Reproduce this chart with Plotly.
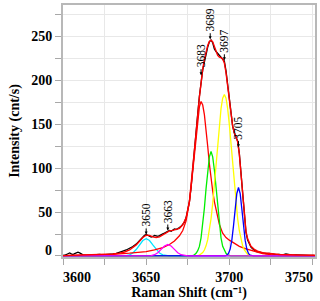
import plotly.graph_objects as go

# ---- raw spectrum (black) ----
raw_x = [3599, 3601, 3603, 3604, 3605, 3606, 3607, 3608, 3609, 3610, 3611, 3612, 3614, 3616, 3618,
         3620, 3622, 3624, 3626, 3628, 3630, 3632, 3634, 3636, 3638, 3640, 3642, 3644, 3646, 3648,
         3649, 3650, 3651, 3652, 3653, 3654, 3655, 3656, 3657, 3658, 3659, 3660, 3661, 3662, 3663,
         3664, 3665, 3666, 3667, 3668, 3669, 3670, 3671, 3672, 3673, 3674, 3675, 3676, 3677, 3678,
         3679, 3680, 3681, 3682, 3683, 3684, 3685, 3686, 3687, 3688, 3689, 3690, 3691, 3692, 3693,
         3694, 3695, 3696, 3697, 3698, 3699, 3700, 3701, 3702, 3703, 3704, 3705, 3706, 3707, 3708,
         3709, 3710, 3711, 3712, 3713, 3714, 3715, 3716, 3718, 3720, 3722, 3724, 3726, 3728, 3730,
         3732, 3734, 3736, 3738, 3740, 3742, 3745, 3748, 3751]
raw_y = [0.5, 0.8, 2.5, 3.4, 2.4, 1.6, 2.6, 3.8, 4.2, 3.5, 2.4, 1.2, 0.6, 0.9, 1.2,
         1.0, 1.8, 1.2, 1.4, 1.9, 2.4, 3.0, 3.9, 5.6, 6.8, 8.6, 10.8, 13.5, 17.8, 21.9,
         23.6, 24.4, 23.5, 22.1, 21.5, 22.2, 23.4, 23.0, 22.3, 23.1, 24.5, 25.2, 26.0, 27.3, 28.6,
         29.0, 28.2, 29.4, 30.8, 30.2, 31.0, 32.3, 33.8, 35.6, 38.5, 43.5, 51, 62, 78, 97,
         118, 140, 162, 182, 200, 212, 221, 231, 238, 244, 246, 243, 236, 233, 231,
         228, 227, 225, 222, 211, 194, 176, 160, 148, 140, 136, 131, 117, 95, 68,
         43, 27, 18, 13, 10, 8.2, 6.9, 5.2, 4.4, 3.4, 2.6, 2.9, 2.0, 1.6, 1.8,
         1.3, 2.2, 1.2, 0.9, 1.1, 0.8, 0.9, 0.6, 0.7]

# ---- cumulative fit (red envelope) ----
fit_x = [3600, 3605, 3610, 3615, 3620, 3625, 3630, 3634, 3637, 3640, 3642, 3644, 3646, 3648, 3650,
         3652, 3654, 3656, 3658, 3660, 3662, 3664, 3666, 3668, 3670, 3672, 3674, 3676, 3678, 3680,
         3682, 3683, 3684, 3685, 3686, 3687, 3688, 3689, 3690, 3691, 3692, 3693, 3694, 3695, 3696,
         3697, 3698, 3699, 3700, 3701, 3702, 3703, 3704, 3705, 3706, 3707, 3708, 3709, 3710, 3711,
         3712, 3713, 3715, 3717, 3720, 3725, 3730, 3740, 3752]
fit_y = [0.4, 0.6, 0.8, 1.0, 1.3, 1.7, 2.3, 3.2, 4.5, 6.8, 9.2, 12.6, 16.8, 21.0, 23.6,
         23.4, 21.8, 21.0, 21.8, 23.8, 26.5, 28.6, 29.2, 30.0, 31.5, 35.5, 43.5, 62, 97, 140,
         181, 200, 213, 224, 234, 240, 244.5, 246, 244, 239, 233, 228.5, 226.5, 226, 224.5,
         220, 209, 193, 176, 160, 148, 140.5, 136, 130, 116, 93, 67, 43, 28, 19.5,
         14.5, 11, 7.5, 5.5, 3.8, 2.4, 1.6, 1.0, 0.7]

# ---- fitted peak components ----
p3650_x = [3599, 3634, 3636, 3638, 3640, 3642, 3644, 3646, 3648, 3650, 3652, 3654, 3656, 3658,
           3660, 3662, 3664, 3666, 3752]
p3650_y = [0, 0, 0.1, 0.4, 1.2, 3.3, 7.3, 12.6, 17.6, 19.7, 17.6, 12.6, 7.3, 3.3,
           1.2, 0.4, 0.1, 0, 0]

p3663_x = [3599, 3649, 3651, 3653, 3655, 3657, 3659, 3661, 3663, 3665, 3667, 3669, 3671, 3673,
           3675, 3677, 3752]
p3663_y = [0, 0, 0.1, 0.4, 1.4, 3.7, 7.5, 11.3, 13, 11.3, 7.5, 3.7, 1.4, 0.4,
           0.1, 0, 0]

p3683_x = [3600, 3610, 3620, 3630, 3640, 3645, 3650, 3655, 3660, 3664, 3667, 3670, 3672, 3674,
           3675, 3676, 3677, 3678, 3679, 3680, 3681, 3682, 3683, 3684, 3685, 3686, 3687, 3688,
           3689, 3690, 3691, 3692, 3693, 3694, 3696, 3698, 3700, 3703, 3706, 3710, 3715, 3720,
           3725, 3730, 3740, 3752]
p3683_y = [0.3, 0.6, 1.1, 1.9, 3.2, 4.0, 5.0, 6.8, 9.5, 13, 17, 23, 29, 40,
           50, 62, 78, 96, 118, 138, 157, 170, 176, 172, 161, 145, 125, 105,
           88, 74, 62, 52, 43, 36, 26, 21, 18, 14, 11, 8, 5, 2.8,
           1.6, 1.0, 0.5, 0.3]

p3689_x = [3599, 3677, 3678, 3679, 3680, 3681, 3682, 3683, 3684, 3685, 3686, 3687, 3688, 3689,
           3690, 3691, 3692, 3693, 3694, 3695, 3696, 3697, 3698, 3699, 3700, 3701, 3752]
p3689_y = [0, 0, 0.4, 1.3, 3, 6, 10.9, 20.6, 35.1, 54.5, 76.7, 98, 113, 119,
           113, 98, 76.7, 54.5, 35.1, 20.6, 10.9, 6, 3, 1.3, 0.4, 0, 0]

p3697_x = [3599, 3680, 3681, 3682, 3683, 3684, 3685, 3686, 3687, 3688, 3689, 3690, 3691, 3692,
           3693, 3694, 3695, 3696, 3697, 3698, 3699, 3700, 3701, 3702, 3703, 3704, 3705, 3706,
           3707, 3708, 3709, 3710, 3711, 3712, 3713, 3714, 3752]
p3697_y = [0, 0, 0.4, 1.0, 2.0, 3.8, 6.8, 11.5, 18.5, 28.7, 42.4, 59.8, 80.6, 103.7,
           127.5, 149.7, 167.9, 179.8, 184, 179.8, 167.9, 149.7, 127.5, 103.7, 80.6, 59.8, 42.4, 28.7,
           18.5, 11.5, 6.8, 3.8, 2.0, 1.0, 0.4, 0, 0]

p3705_x = [3599, 3696.5, 3697.5, 3698.5, 3699.5, 3700.5, 3701.5, 3702.5, 3703.5, 3704.5, 3705.5,
           3706.5, 3707.5, 3708.5, 3709.5, 3710.5, 3711.5, 3712.5, 3713.5, 3714.5, 3752]
p3705_y = [0, 0, 0.2, 0.9, 2.9, 7.9, 18, 34.2, 54, 71.2, 78,
           71.2, 54, 34.2, 18, 7.9, 2.9, 0.9, 0.2, 0, 0]

# ---- peak labels ----
label_text = ["3650", "3663", "3683", "3689", "3697", "3705"]
label_x = [3650, 3663, 3683, 3688.5, 3697, 3705.5]
label_y = [24.5, 29, 206, 247, 223, 124]

x_tick_vals = [3650, 3700]
x_edge_vals = [3600, 3750]
y_tick_vals = [50, 100, 150, 200, 250]
y_edge_val = 0

FONT = "Liberation Serif"

fig = go.Figure()
fig.add_trace(go.Scatter(x=raw_x, y=raw_y, mode="lines", line=dict(color="black", width=1.3)))
fig.add_trace(go.Scatter(x=p3650_x, y=p3650_y, mode="lines", line=dict(color="#00e5ff", width=1.3)))
fig.add_trace(go.Scatter(x=p3683_x, y=p3683_y, mode="lines", line=dict(color="#ff0000", width=1.3)))
fig.add_trace(go.Scatter(x=p3689_x, y=p3689_y, mode="lines", line=dict(color="#00ee00", width=1.3)))
fig.add_trace(go.Scatter(x=p3697_x, y=p3697_y, mode="lines", line=dict(color="#ffff00", width=1.3)))
fig.add_trace(go.Scatter(x=p3705_x, y=p3705_y, mode="lines", line=dict(color="#0000ff", width=1.3)))
fig.add_trace(go.Scatter(x=p3663_x, y=p3663_y, mode="lines", line=dict(color="#ff00ff", width=1.3)))
fig.add_trace(go.Scatter(x=fit_x, y=fit_y, mode="lines", line=dict(color="#ff0000", width=1.4)))

for t, xv, yv in zip(label_text, label_x, label_y):
    fig.add_annotation(x=xv, y=yv, xref="x", yref="y", text=t, textangle=-90,
                       showarrow=True, ax=0, ay=-19, arrowhead=2, arrowsize=0.6,
                       arrowwidth=1, arrowcolor="black",
                       font=dict(family=FONT, size=11.5, color="black"))

# edge tick labels (shifted inward as in the reference)
fig.add_annotation(x=x_edge_vals[0], y=0, xref="x", yref="paper", text=str(x_edge_vals[0]),
                   showarrow=False, xanchor="center", yanchor="top", xshift=14, yshift=-11,
                   font=dict(family=FONT, size=14, color="black", weight="bold"))
fig.add_annotation(x=x_edge_vals[1], y=0, xref="x", yref="paper", text=str(x_edge_vals[1]),
                   showarrow=False, xanchor="center", yanchor="top", xshift=-14, yshift=-11,
                   font=dict(family=FONT, size=14, color="black", weight="bold"))
fig.add_annotation(x=0, y=y_edge_val, xref="paper", yref="y", text=str(y_edge_val), showarrow=False,
                   xanchor="right", yanchor="middle", xshift=-9, yshift=5,
                   font=dict(family=FONT, size=14, color="black", weight="bold"))

axis_common = dict(showline=True, linecolor="#b8b8b8", linewidth=2, mirror=True,
                   showgrid=True, gridcolor="#e8e8e8", gridwidth=1, zeroline=False,
                   ticks="outside", ticklen=6, tickcolor="#a8a8a8", tickwidth=1,
                   tickfont=dict(family=FONT, size=14, color="black", weight="bold"))

fig.update_layout(
    width=320, height=301,
    margin=dict(l=63, r=4, t=3, b=44),
    paper_bgcolor="white", plot_bgcolor="white",
    showlegend=False,
    xaxis=dict(range=[3600, 3751.5], tickvals=x_tick_vals,
               minor=dict(dtick=25, tick0=3600, ticks="outside", ticklen=6, tickcolor="#a8a8a8",
                          showgrid=True, gridcolor="#e8e8e8"),
               title=dict(text="Raman Shift (cm\u207b\u00b9)", standoff=3,
                          font=dict(family=FONT, size=14, color="black", weight="bold")),
               **axis_common),
    yaxis=dict(range=[-1.2, 286], tickvals=y_tick_vals,
               minor=dict(dtick=25, tick0=0, ticks="outside", ticklen=6, tickcolor="#a8a8a8",
                          showgrid=True, gridcolor="#e8e8e8"),
               title=dict(text="Intensity (cnt/s)", standoff=8,
                          font=dict(family=FONT, size=14, color="black", weight="bold")),
               **axis_common),
)

fig.write_html("out.html", post_script="document.body.style.margin='0';",
               config={"displayModeBar": False})
